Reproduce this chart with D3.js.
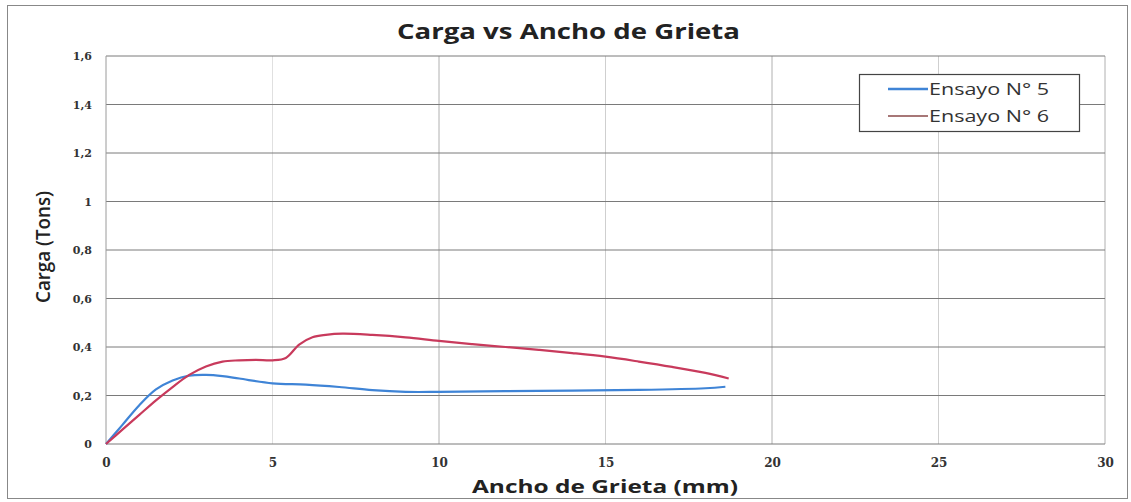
<!DOCTYPE html>
<html><head><meta charset="utf-8">
<script src="https://cdn.jsdelivr.net/npm/d3@7"></script>
<style>body{margin:0;background:#fff}svg{display:block}</style>
</head><body>
<script>
const xTicks = [0,5,10,15,20,25,30];
const yTicks = [0,0.2,0.4,0.6,0.8,1,1.2,1.4,1.6];
const yTickLabels = ["0","0,2","0,4","0,6","0,8","1","1,2","1,4","1,6"];
const seriesNames = ["Ensayo N° 5","Ensayo N° 6"];
const ens5x = [0,0.5,1,1.5,2,2.5,3,3.5,4,5,6,7,8,9,10,12,14,16,18,18.6];
const ens5y = [0,0.08,0.16,0.225,0.262,0.282,0.285,0.28,0.27,0.25,0.245,0.235,0.222,0.215,0.215,0.218,0.22,0.223,0.23,0.236];
const ens6x = [0,0.5,1,1.5,2,2.5,3,3.5,4,4.5,5,5.4,5.8,6.2,6.6,7.1,8,9,10,11,12,13,14,15,16,17,18,18.7];
const ens6y = [0,0.06,0.12,0.18,0.235,0.285,0.32,0.34,0.345,0.347,0.345,0.355,0.41,0.44,0.45,0.455,0.45,0.44,0.425,0.412,0.4,0.388,0.375,0.36,0.34,0.318,0.293,0.27];

const W=1131,H=502;
const svg=d3.select("body").append("svg").attr("width",W).attr("height",H);
svg.append("rect").attr("x",7.5).attr("y",5.5).attr("width",1120).attr("height",493)
  .attr("fill","#fff").attr("stroke","#888").attr("stroke-width",1);

const x=d3.scaleLinear().domain([0,30]).range([106,1105]);
const y=d3.scaleLinear().domain([0,1.6]).range([444,56]);

// vertical grid
svg.append("g").selectAll("line").data(xTicks.slice(1)).join("line")
  .attr("x1",d=>x(d)).attr("x2",d=>x(d)).attr("y1",y(0)).attr("y2",y(1.6))
  .attr("stroke",d=>d===5?"#e0e0e0":(d%10===0?"#b0b0b0":"#cfcfcf")).attr("stroke-width",1);
// horizontal grid
svg.append("g").selectAll("line").data(yTicks).join("line")
  .attr("x1",x(0)).attr("x2",x(30)).attr("y1",d=>y(d)).attr("y2",d=>y(d))
  .attr("stroke","#7a7a7a").attr("stroke-width",1);
// left axis line
svg.append("line").attr("x1",x(0)).attr("x2",x(0)).attr("y1",y(0)).attr("y2",y(1.6)).attr("stroke","#9a9a9a");

const yAxis=d3.axisLeft(y).tickValues(yTicks).tickFormat((d,i)=>yTickLabels[i]).tickSize(0).tickPadding(14);
const gy=svg.append("g").attr("transform",`translate(${x(0)},0)`).call(yAxis);
gy.select(".domain").remove();
gy.selectAll("text").attr("font-family","DejaVu Serif").attr("font-weight","bold").attr("font-size",11).attr("fill","#333");

const xAxis=d3.axisBottom(x).tickValues(xTicks).tickSize(0).tickPadding(14);
const gx=svg.append("g").attr("transform",`translate(0,${y(0)})`).call(xAxis);
gx.select(".domain").remove();
gx.selectAll("text").attr("font-family","DejaVu Serif").attr("font-weight","bold").attr("font-size",12).attr("fill","#333");

const line=d3.line().x(d=>x(d[0])).y(d=>y(d[1])).curve(d3.curveCatmullRom.alpha(0.5));
const d5=ens5x.map((v,i)=>[v,ens5y[i]]);
const d6=ens6x.map((v,i)=>[v,ens6y[i]]);
svg.append("path").attr("d",line(d5)).attr("fill","none").attr("stroke","#3f84d6").attr("stroke-width",2.2);
svg.append("path").attr("d",line(d6)).attr("fill","none").attr("stroke","#c83a5c").attr("stroke-width",2.2);

// titles
svg.append("text").attr("x",397).attr("y",39)
  .attr("font-family","Open Sans").attr("font-weight","bold").attr("font-size",21).attr("fill","#222")
  .attr("textLength",343).attr("lengthAdjust","spacingAndGlyphs")
  .text("Carga vs Ancho de Grieta");
svg.append("text").attr("x",472).attr("y",493)
  .attr("font-family","Open Sans").attr("font-weight","bold").attr("font-size",18).attr("fill","#222")
  .attr("textLength",266).attr("lengthAdjust","spacingAndGlyphs")
  .text("Ancho de Grieta (mm)");
svg.append("text").attr("transform","translate(50,247) rotate(-90)").attr("text-anchor","middle")
  .attr("font-family","Open Sans").attr("font-weight","600").attr("font-size",19).attr("fill","#222")
  .attr("textLength",112).attr("lengthAdjust","spacingAndGlyphs")
  .text("Carga (Tons)");

// legend
const lg=svg.append("g");
lg.append("rect").attr("x",859.5).attr("y",74.5).attr("width",220).attr("height",57)
  .attr("fill","#fff").attr("stroke","#444").attr("stroke-width",1.2);
const lcol=["#3f84d6","#8a4a4a"];
seriesNames.forEach((n,i)=>{
  const yy=89+i*27;
  lg.append("line").attr("x1",888).attr("x2",928).attr("y1",yy).attr("y2",yy)
    .attr("stroke",lcol[i]).attr("stroke-width",i===0?2.4:1.4);
  lg.append("text").attr("x",929).attr("y",yy+6).attr("font-family","Open Sans")
    .attr("font-size",16).attr("fill","#333")
    .attr("textLength",120).attr("lengthAdjust","spacingAndGlyphs").text(n);
});
</script>
</body></html>
